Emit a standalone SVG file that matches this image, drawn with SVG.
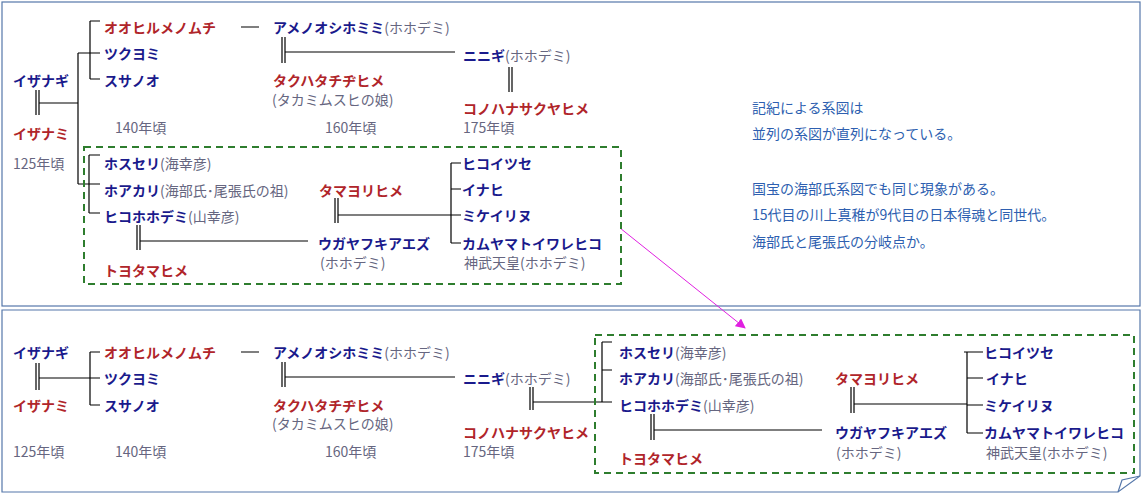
<svg xmlns="http://www.w3.org/2000/svg" width="1143" height="495" viewBox="0 0 1143 495">
<style>
text{font-family:"Noto Sans CJK JP","Noto Sans CJK SC",sans-serif;font-size:14px;dominant-baseline:central}
.n{fill:#1a1a8c;font-weight:bold}
.r{fill:#b0252a;font-weight:bold}
.g{fill:#666680;font-weight:normal}
.b{fill:#2e5fb0;font-size:14px}
.l{stroke:#000;stroke-width:1.2;fill:none}
.box{stroke:#2e7d2e;stroke-width:2;stroke-dasharray:7,5;fill:none}
.frame{stroke:#5577aa;stroke-width:1.2;fill:none}
</style>
<defs><marker id="ah" markerWidth="10" markerHeight="10" refX="9" refY="5" orient="auto" markerUnits="userSpaceOnUse"><path d="M0,0 L10,5 L0,10 z" fill="#e020e0"/></marker></defs>
<rect x="0" y="0" width="1143" height="495" fill="#fff"/>
<g id="frames">
<rect class="frame" x="2" y="2" width="1138" height="304"/>
<path class="frame" d="M2,310 H1140 V476 L1118,492 H2 Z"/>
<path class="frame" d="M1118,492 L1122,480 L1140,476"/>
</g>
<g id="connectors">
<path class="l" d="M36,90V115M39,90V115M39,103H78M78,53V184M78,53H100M90,21V79M90,21H100M90,79H100M78,184H100M89,155V213M89,155H100M89,213H100"/>
<path class="l" d="M241,27H259M282,37V63M285,37V63M285,52H455M509,67V92M512,67V92"/>
<path class="l" d="M137,225V250M140,225V250M140,241H308M335,198V223M338,198V223M338,215H451M451,163V243M451,163H461M451,189H461M451,215H461M451,243H461"/>
<path class="l" d="M36,363V390M39,363V390M39,378H100M90,352V405M90,352H100M90,405H100M241,352H259M282,362V387M285,362V387M285,377H455"/>
<path class="l" d="M530,387V410M533,387V410M533,402H612M602,342V402M602,342H612M602,370H612"/>
<path class="l" d="M651,414V440M654,414V440M654,430H822M851,387V413M854,387V413M854,404H967M967,352V433M964,352H983M967,378H983M967,405H983M967,433H983"/>
<path d="M620,228L745,328" stroke="#e020e0" stroke-width="1" marker-end="url(#ah)"/>
</g>
<rect class="box" x="84" y="147" width="537" height="137"/>
<rect class="box" x="595" y="335" width="539" height="138"/>
<g id="top">
<text x="13" y="80" class="n">イザナギ</text>
<text x="13" y="133" class="r">イザナミ</text>
<text x="13" y="163" class="g">125年頃</text>
<text x="104" y="27" class="r">オオヒルメノムチ</text>
<text x="104" y="53" class="n">ツクヨミ</text>
<text x="104" y="80" class="n">スサノオ</text>
<text x="273" y="27" class="n">アメノオシホミミ<tspan class="g">(ホホデミ)</tspan></text>
<text x="273" y="80" class="r">タクハタチヂヒメ</text>
<text x="272" y="99" class="g">(タカミムスヒの娘)</text>
<text x="463" y="55" class="n">ニニギ<tspan class="g">(ホホデミ)</tspan></text>
<text x="463" y="108" class="r">コノハナサクヤヒメ</text>
<text x="115" y="127" class="g">140年頃</text>
<text x="325" y="127" class="g">160年頃</text>
<text x="463" y="127" class="g">175年頃</text>
<text x="104" y="163" class="n">ホスセリ<tspan class="g">(海幸彦)</tspan></text>
<text x="104" y="190" class="n">ホアカリ<tspan class="g">(海部氏･尾張氏の祖)</tspan></text>
<text x="104" y="216" class="n">ヒコホホデミ<tspan class="g">(山幸彦)</tspan></text>
<text x="104" y="270" class="r">トヨタマヒメ</text>
<text x="319" y="190" class="r">タマヨリヒメ</text>
<text x="318" y="243" class="n">ウガヤフキアエズ</text>
<text x="320" y="262" class="g">(ホホデミ)</text>
<text x="462" y="163" class="n">ヒコイツセ</text>
<text x="462" y="189" class="n">イナヒ</text>
<text x="462" y="215" class="n">ミケイリヌ</text>
<text x="462" y="243" class="n">カムヤマトイワレヒコ</text>
<text x="464" y="262" class="g">神武天皇(ホホデミ)</text>
</g>
<g id="notes">
<text x="752" y="107" class="b">記紀による系図は</text>
<text x="752" y="133" class="b">並列の系図が直列になっている。</text>
<text x="752" y="188" class="b">国宝の海部氏系図でも同じ現象がある。</text>
<text x="752" y="214" class="b">15代目の川上真稚が9代目の日本得魂と同世代。</text>
<text x="752" y="241" class="b">海部氏と尾張氏の分岐点か。</text>
</g>
<g id="bottom">
<text x="13" y="352" class="n">イザナギ</text>
<text x="13" y="405" class="r">イザナミ</text>
<text x="13" y="451" class="g">125年頃</text>
<text x="104" y="352" class="r">オオヒルメノムチ</text>
<text x="104" y="378" class="n">ツクヨミ</text>
<text x="104" y="405" class="n">スサノオ</text>
<text x="273" y="352" class="n">アメノオシホミミ<tspan class="g">(ホホデミ)</tspan></text>
<text x="273" y="405" class="r">タクハタチヂヒメ</text>
<text x="272" y="423" class="g">(タカミムスヒの娘)</text>
<text x="463" y="378" class="n">ニニギ<tspan class="g">(ホホデミ)</tspan></text>
<text x="463" y="432" class="r">コノハナサクヤヒメ</text>
<text x="115" y="451" class="g">140年頃</text>
<text x="325" y="451" class="g">160年頃</text>
<text x="463" y="451" class="g">175年頃</text>
<text x="619" y="352" class="n">ホスセリ<tspan class="g">(海幸彦)</tspan></text>
<text x="619" y="378" class="n">ホアカリ<tspan class="g">(海部氏･尾張氏の祖)</tspan></text>
<text x="619" y="405" class="n">ヒコホホデミ<tspan class="g">(山幸彦)</tspan></text>
<text x="619" y="458" class="r">トヨタマヒメ</text>
<text x="835" y="378" class="r">タマヨリヒメ</text>
<text x="835" y="432" class="n">ウガヤフキアエズ</text>
<text x="836" y="452" class="g">(ホホデミ)</text>
<text x="984" y="352" class="n">ヒコイツセ</text>
<text x="986" y="378" class="n">イナヒ</text>
<text x="984" y="405" class="n">ミケイリヌ</text>
<text x="984" y="432" class="n">カムヤマトイワレヒコ</text>
<text x="986" y="452" class="g">神武天皇(ホホデミ)</text>
</g>
</svg>
